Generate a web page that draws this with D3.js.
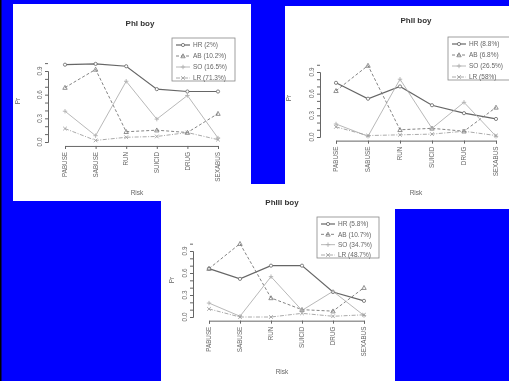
<!DOCTYPE html>
<html lang="en">
<head>
<meta charset="UTF-8">
<title>Phase boy risk profiles</title>
<script src="https://d3js.org/d3.v7.min.js"></script>
<style>
    body { margin: 0; background: #0000ff; }
    svg { display: block; font-family: "Liberation Sans", Arial, sans-serif; }
    .tick-label { font-size: 6.3px; fill: #666; }
    .title { font-size: 8px; font-weight: bold; fill: #333; }
    .legend-text { font-size: 6.5px; fill: #666; }
    .axis-title { font-size: 6.5px; fill: #666; }
</style>
</head>
<body>
<div id="chart"></div>
<script>
    const risks = ["PABUSE", "SABUSE", "RUN", "SUICID", "DRUG", "SEXABUS"];
    const yTickValues = [0, 0.1, 0.2, 0.3, 0.4, 0.5, 0.6, 0.7, 0.8, 0.9, 1.0];
    const yTickLabels = ["0.0", "0.3", "0.6", "0.9"];
    const seriesKeys = ["HR", "AB", "SO", "LR"];

    // PhI boy
    const p1Legend = ["HR (2%)", "AB (10.2%)", "SO (16.5%)", "LR (71.3%)"];
    const p1HR = [0.98, 0.99, 0.96, 0.67, 0.64, 0.64];
    const p1AB = [0.69, 0.92, 0.13, 0.15, 0.12, 0.36];
    const p1SO = [0.39, 0.08, 0.77, 0.29, 0.59, 0.05];
    const p1LR = [0.17, 0.02, 0.06, 0.07, 0.12, 0.03];

    // PhII boy
    const p2Legend = ["HR (8.8%)", "AB (6.8%)", "SO (26.5%)", "LR (58%)"];
    const p2HR = [0.75, 0.53, 0.70, 0.44, 0.33, 0.25];
    const p2AB = [0.64, 0.99, 0.10, 0.12, 0.08, 0.41];
    const p2SO = [0.18, 0.01, 0.80, 0.12, 0.48, 0.01];
    const p2LR = [0.14, 0.02, 0.03, 0.04, 0.08, 0.02];

    // PhIII boy
    const p3Legend = ["HR (5.8%)", "AB (10.7%)", "SO (34.7%)", "LR (48.7%)"];
    const p3HR = [0.66, 0.52, 0.70, 0.70, 0.34, 0.22];
    const p3AB = [0.66, 1.00, 0.26, 0.10, 0.08, 0.40];
    const p3SO = [0.19, 0.01, 0.55, 0.09, 0.35, 0.02];
    const p3LR = [0.11, 0.00, 0.00, 0.05, 0.01, 0.03];

    const W = 509, H = 381;

    const styles = {
        HR: { stroke: "#666", dash: null, width: 1.2 },
        AB: { stroke: "#777", dash: "3,2", width: 0.9 },
        SO: { stroke: "#b0b0b0", dash: null, width: 0.9 },
        LR: { stroke: "#a0a0a0", dash: "4,1.5,1,1.5", width: 0.9 }
    };

    const svg = d3.select("#chart").append("svg")
        .attr("width", W).attr("height", H);

    svg.append("rect").attr("width", W).attr("height", H).attr("fill", "#0000ff");
    svg.append("rect").attr("width", 1.5).attr("height", H).attr("fill", "#000");

    const blur = svg.append("defs").append("filter").attr("id", "soft");
    blur.append("feGaussianBlur").attr("stdDeviation", 0.4);

    function marker(g, key, x, y, color) {
        if (key === "HR") {
            g.append("circle").attr("cx", x).attr("cy", y).attr("r", 1.6)
                .attr("fill", "#fff").attr("stroke", color).attr("stroke-width", 0.8);
        } else if (key === "AB") {
            const s = 2.2;
            g.append("path")
                .attr("d", `M${x},${y - s}L${x + s},${y + s * 0.8}L${x - s},${y + s * 0.8}Z`)
                .attr("fill", "none").attr("stroke", color).attr("stroke-width", 0.8);
        } else if (key === "SO") {
            g.append("path").attr("d", `M${x - 2.2},${y}H${x + 2.2}M${x},${y - 2.2}V${y + 2.2}`)
                .attr("stroke", color).attr("stroke-width", 0.9);
        } else {
            g.append("path").attr("d", `M${x - 1.8},${y - 1.8}L${x + 1.8},${y + 1.8}M${x - 1.8},${y + 1.8}L${x + 1.8},${y - 1.8}`)
                .attr("stroke", color).attr("stroke-width", 0.9);
        }
    }

    function drawPanel(p) {
        const g = svg.append("g");
        g.append("rect").attr("x", p.rect[0]).attr("y", p.rect[1])
            .attr("width", p.rect[2]).attr("height", p.rect[3]).attr("fill", "#fff");

        const c = g.append("g").attr("filter", "url(#soft)");

        const x = d3.scalePoint().domain(risks).range([p.x0, p.x1]);
        const y = d3.scaleLinear().domain([0, 0.9]).range([p.y0, p.y9]);
        const xAxisY = y(-0.05);

        // y axis
        const yAxis = d3.axisLeft(y).tickValues(yTickValues).tickSize(3).tickFormat("");
        c.append("g").attr("transform", `translate(${p.axisX},0)`).call(yAxis)
            .call(a => a.select(".domain").attr("stroke", "#666"))
            .call(a => a.selectAll("line").attr("stroke", "#666"));
        yTickLabels.forEach(t => {
            c.append("text").attr("class", "tick-label")
                .attr("transform", `translate(${p.axisX - 6},${y(+t)}) rotate(-90)`)
                .attr("text-anchor", "middle").text(t);
        });

        // x axis
        const xAxis = d3.axisBottom(x).tickSize(3).tickFormat("");
        c.append("g").attr("transform", `translate(0,${xAxisY})`).call(xAxis)
            .call(a => a.select(".domain").attr("stroke", "#666"))
            .call(a => a.selectAll("line").attr("stroke", "#666"));
        risks.forEach(r => {
            c.append("text").attr("class", "tick-label")
                .attr("transform", `translate(${x(r) + 2.2},${xAxisY + 6}) rotate(-90)`)
                .attr("text-anchor", "end").text(r);
        });

        // titles
        c.append("text").attr("class", "title").attr("x", p.title[0]).attr("y", p.title[1])
            .attr("text-anchor", "middle").text(p.name);
        c.append("text").attr("class", "axis-title").attr("x", p.risk[0]).attr("y", p.risk[1])
            .attr("text-anchor", "middle").text("Risk");
        c.append("text").attr("class", "axis-title")
            .attr("transform", `translate(${p.pr[0]},${p.pr[1]}) rotate(-90)`)
            .attr("text-anchor", "middle").text("Pr");

        // series
        const line = d3.line().x((d, i) => x(risks[i])).y(d => y(d));
        seriesKeys.forEach((k, si) => {
            const s = styles[k];
            c.append("path").datum(p.series[si])
                .attr("d", line).attr("fill", "none")
                .attr("stroke", s.stroke).attr("stroke-width", s.width)
                .attr("stroke-dasharray", s.dash);
        });
        seriesKeys.forEach((k, si) => {
            p.series[si].forEach((v, i) => marker(c, k, x(risks[i]), y(v), styles[k].stroke));
        });

        // legend
        const [lx, ly, lw, lh] = p.legend;
        c.append("rect").attr("x", lx).attr("y", ly).attr("width", lw).attr("height", lh)
            .attr("fill", "#fff").attr("stroke", "#888").attr("stroke-width", 0.8);
        seriesKeys.forEach((k, si) => {
            const yy = ly + 7 + si * (lh - 10) / 3;
            const s = styles[k];
            c.append("line").attr("x1", lx + 4).attr("x2", lx + 18).attr("y1", yy).attr("y2", yy)
                .attr("stroke", s.stroke).attr("stroke-width", s.width).attr("stroke-dasharray", s.dash);
            marker(c, k, lx + 11, yy, s.stroke);
            c.append("text").attr("class", "legend-text").attr("x", lx + 21).attr("y", yy + 2.3)
                .text(p.labels[si]);
        });
    }

    drawPanel({
        name: "PhI boy", rect: [13, 4, 238, 197],
        axisX: 48, x0: 65, x1: 218, y0: 142, y9: 71,
        title: [140, 26], risk: [137, 195], pr: [20, 101],
        legend: [172, 38, 63, 43], labels: p1Legend,
        series: [p1HR, p1AB, p1SO, p1LR]
    });
    drawPanel({
        name: "PhII boy", rect: [285, 6, 224, 203],
        axisX: 320, x0: 336, x1: 496, y0: 137, y9: 72,
        title: [416, 23], risk: [416, 195], pr: [291, 98],
        legend: [448, 37, 64, 43], labels: p2Legend,
        series: [p2HR, p2AB, p2SO, p2LR]
    });
    drawPanel({
        name: "PhIII boy", rect: [161, 184, 234, 197],
        axisX: 193, x0: 209, x1: 364, y0: 317, y9: 251,
        title: [282, 205], risk: [282, 374], pr: [174, 280],
        legend: [317, 217, 62, 41], labels: p3Legend,
        series: [p3HR, p3AB, p3SO, p3LR]
    });
</script>
</body>
</html>
